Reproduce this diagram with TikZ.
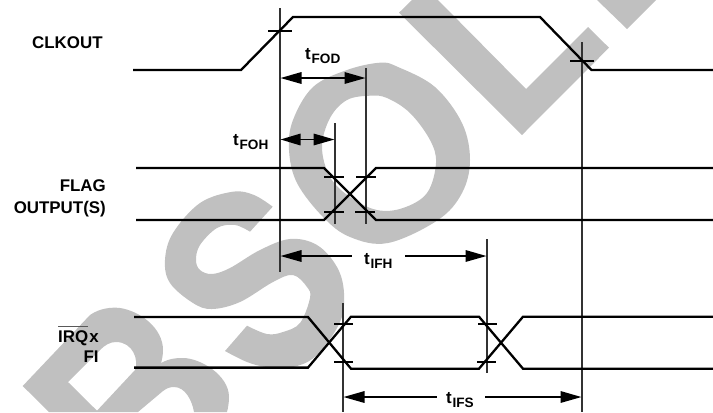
\documentclass[tikz,border=0pt]{standalone}
\usepackage{fontspec}
\setmainfont{Liberation Sans}
\usetikzlibrary{arrows.meta}
\newcommand{\tlab}[1]{t\kern0.8bp\raisebox{-4.3bp}{\fontsize{13.6bp}{14bp}\selectfont #1}}
\tikzset{
  wm/.style={fill={rgb,255:red,192;green,192;blue,192},draw=none},
  sig/.style={draw=black,line width=2.3bp,line join=miter},
  vline/.style={draw={rgb,255:red,50;green,50;blue,50},line width=1.2bp},
  tick/.style={draw=black,line width=1.3bp},
  dim/.style={draw=black,line width=1.6bp},
  lab/.style={inner sep=0pt,font=\fontsize{16.9bp}{18bp}\selectfont\bfseries},
}
\begin{document}
\begin{tikzpicture}[x=1bp,y=-1bp]
\useasboundingbox (0,0) rectangle (713,412);
% watermark: B
\fill[wm,even odd rule]
  (49,412) -- (22.7,386) -- (90,315)
  .. controls (100,308) and (112,307) .. (120,308)
  .. controls (140,311) and (163,328) .. (163,350)
  .. controls (163,355) and (162,360) .. (161,363)
  .. controls (170,358) and (178,358) .. (183,358)
  .. controls (200,358) and (229,375) .. (229,397)
  .. controls (229,403) and (228,408) .. (227,412) -- (194,412)
  .. controls (192,400) and (185,387) .. (174,387)
  .. controls (170,387) and (167,388) .. (163,391)
  -- (138,412) -- cycle
  (68,382) -- (97,410.7) -- (135,370)
  .. controls (139,360) and (133,342) .. (116,342)
  .. controls (110,342) and (105,345) .. (100,350) -- cycle;
% watermark: S
\fill[wm]
  plot[smooth,tension=.6] coordinates {(272.7,206.7) (254,195) (233,191.7) (200,203) (173,233) (165,260) (170,283) (193,303) (212,309) (240,302) (273,282) (293,275) (307,287) (310,298) (300,323) (283,332) (267,334) (247,325.7)}
  -- plot[smooth,tension=.6] coordinates {(225,351) (247,362) (267,367) (293,367) (317,355) (340,322) (344,293) (337,267) (317,245) (290,239) (260,250) (230,268) (212,274) (200,270) (196,260) (200,245) (217,228) (235,225) (250,231.7)}
  -- cycle;
% watermark: O
\fill[wm,even odd rule]
  plot[smooth cycle,tension=.6] coordinates {(380,62.7) (347,70) (313,87) (293,120) (289,150) (297,183) (323,217) (350,237) (388,243) (438,220) (462,193) (470,160) (462,123) (435,87) (398,67)}
  plot[smooth cycle,tension=.6] coordinates {(370,95.7) (347,100) (330,118) (322,147) (330,177) (350,197) (377,210) (403,208) (427,193) (436,163) (430,140) (410,113) (387,98)};
% watermark: L and next letter
\fill[wm] (399,12.7) -- (412,0) -- (438,0) -- (526,89) -- (588,27) -- (609,47.7) -- (522,135) -- cycle;
\fill[wm] (597,0) -- (627,29) -- (656,0) -- cycle;
% vertical reference lines
\coordinate (v1top) at (280,8);   \coordinate (v1bot) at (280,272);
\coordinate (v2top) at (366,68);  \coordinate (v2bot) at (366,224);
\coordinate (v3top) at (335,123); \coordinate (v3bot) at (335,224);
\coordinate (v4top) at (582,42);  \coordinate (v4bot) at (582,412);
\coordinate (v5top) at (487,239); \coordinate (v5bot) at (487,373);
\coordinate (v6top) at (343,303); \coordinate (v6bot) at (343,412);
\foreach \v in {v1,v2,v3,v4,v5,v6} \draw[vline] (\v top) -- (\v bot);
% signals
\draw[sig] (133,70) -- (241,70) -- (293,17) -- (540,17) -- (591.5,70) -- (713,70);
\draw[sig] (136,168) -- (324,168) -- (376,220) -- (713,220);
\draw[sig] (136,220) -- (324,220) -- (376,168) -- (713,168);
\draw[sig] (134,317) -- (308,317) -- (351,368.7) -- (479,368.7) -- (523,316.7) -- (713,316.7);
\draw[sig] (134,367.6) -- (308,367.6) -- (351,316.7) -- (479,316.7) -- (523,368.7) -- (713,368.7);
% ticks
\draw[tick] (268,31) -- (292,31);
\draw[tick] (570,61) -- (594,61);
\draw[tick] (324,177) -- (344,177);
\draw[tick] (356,177) -- (376,177);
\draw[tick] (324,212) -- (344,212);
\draw[tick] (355,212) -- (375,212);
\draw[tick] (334,324) -- (353,324);
\draw[tick] (334,362) -- (353,362);
\draw[tick] (478,324) -- (497,324);
\draw[tick] (477,362) -- (496,362);
% dimension arrows
\coordinate (fodL) at (280.5,78);  \coordinate (fodR) at (365.5,78);
\coordinate (fohL) at (280.5,139.5); \coordinate (fohR) at (334.5,139.5);
\coordinate (ifhL) at (280.5,256); \coordinate (ifhLe) at (352,256);
\coordinate (ifhRs) at (405,256); \coordinate (ifhR) at (486.5,256);
\coordinate (ifsL) at (343.5,397); \coordinate (ifsLe) at (437,397);
\coordinate (ifsRs) at (485,397); \coordinate (ifsR) at (581.5,397);
\draw[dim,{Triangle[length=21bp,width=11.5bp]}-{Triangle[length=21bp,width=11.5bp]}] (fodL) -- (fodR);
\draw[dim,{Triangle[length=20bp,width=11.5bp]}-{Triangle[length=21bp,width=11.5bp]}] (fohL) -- (fohR);
\draw[dim,{Triangle[length=21bp,width=11.5bp]}-] (ifhL) -- (ifhLe);
\draw[dim,-{Triangle[length=21bp,width=11.5bp]}] (ifhRs) -- (ifhR);
\draw[dim,{Triangle[length=21bp,width=11.5bp]}-] (ifsL) -- (ifsLe);
\draw[dim,-{Triangle[length=21bp,width=11.5bp]}] (ifsRs) -- (ifsR);
% labels
\node[lab,anchor=base west] (clk) at (32,48) {CLKOUT};
\node[lab,anchor=base east] (flag) at (106,191) {FLAG};
\node[lab,anchor=base east] (out) at (106,213) {OUTPUT(S)};
\node[lab,anchor=base west] (irq) at (58,342) {\rlap{\raisebox{15.2bp}{\color[rgb]{.35,.35,.35}\rule{30bp}{0.9bp}}}IRQ\kern1.2bp x};
\node[lab,anchor=base west] (fi) at (83.3,362) {FI};
\node[lab,anchor=base west] (tfod) at (305,59) {\tlab{FOD}};
\node[lab,anchor=base west] (tfoh) at (233,145) {\tlab{FOH}};
\node[lab,anchor=base west] (tifh) at (364,264) {\tlab{IFH}};
\node[lab,anchor=base west] (tifs) at (446,403) {\tlab{IFS}};
\end{tikzpicture}
\end{document}
